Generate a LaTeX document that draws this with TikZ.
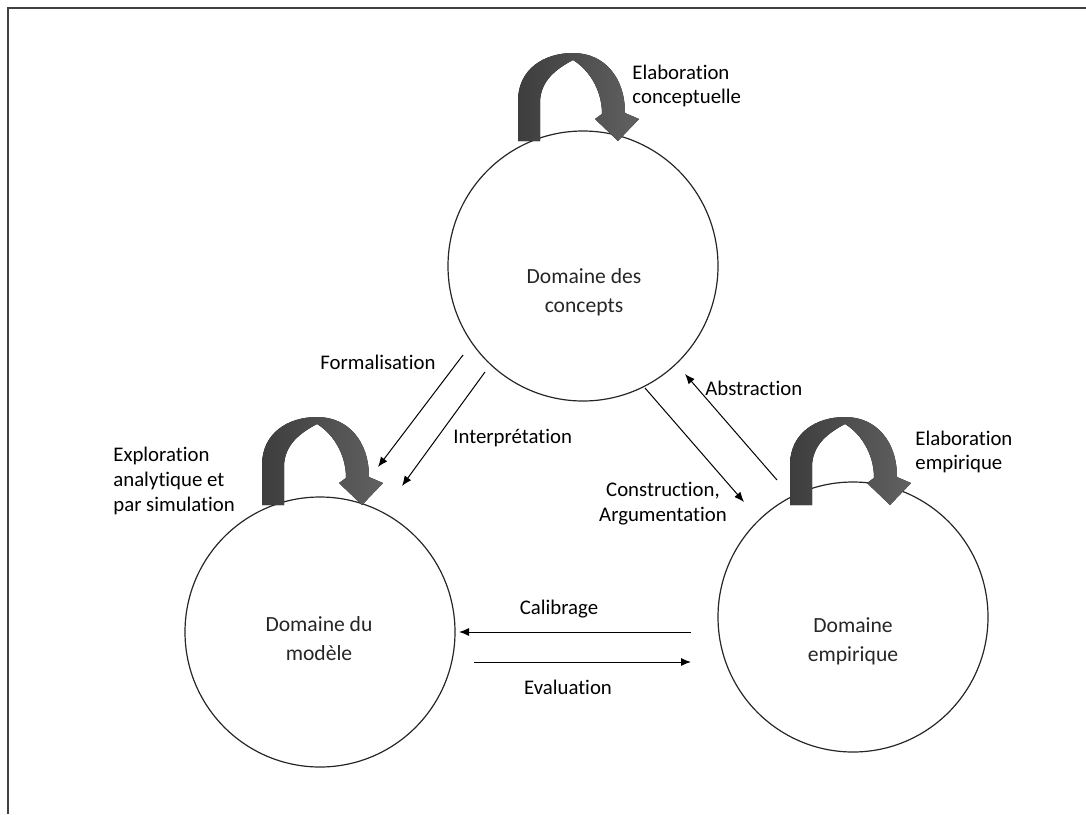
\documentclass[tikz,border=0pt]{standalone}
\usepackage{fontspec}
\setmainfont{Carlito}[Ligatures=NoCommon]
\usetikzlibrary{arrows.meta}
\begin{document}
\begin{tikzpicture}[
  x=0.5pt, y=-0.5pt,
  dom/.style={circle, draw=black!85, line width=0.6pt, minimum size=135pt, inner sep=0pt},
  dtext/.style={align=center, inner sep=0pt, text=black!85, font=\fontsize{10.8}{14.5}\selectfont},
  lbl/.style={align=center, inner sep=0pt, font=\fontsize{10.4}{12.4}\selectfont},
  flow/.style={-{Latex[length=5pt,width=4pt]}, line width=0.5pt},
  loopshape/.style={left color=black!76, right color=black!62, draw=none}
]
  \useasboundingbox (0,0) rectangle (1086,814);
  \draw[line width=1pt, black!75] (8,814) -- (8,8) -- (1086,8);

  \node[dom] (conc) at (583,266) {};
  \node[dom] (mod) at (320,632) {};
  \node[dom] (emp) at (853,617) {};

  \node[dtext] (concT) at (584,292) {Domaine des\\concepts};
  \node[dtext] (modT) at (319,639) {Domaine du\\mod\`ele};
  \node[dtext] (empT) at (853,641) {Domaine\\empirique};

  % boucles
  \foreach \x/\y in {518/141, 262/505, 790/505} {
    \begin{scope}[shift={(\x,\y)}]
      \fill[loopshape] (0,0) -- (0,-40)
        .. controls (0,-72) and (26,-88) .. (55,-88)
        .. controls (86,-88) and (107,-64) .. (107,-28)
        -- (121,-22) -- (100,0) -- (77,-22) -- (84,-27)
        .. controls (84,-52) and (70,-72) .. (55,-81)
        .. controls (38,-72) and (22,-60) .. (22,-38)
        -- (22,0) -- cycle;
    \end{scope}
  }

  \coordinate (formA) at (463,355);
  \coordinate (formB) at (378,467);
  \coordinate (interA) at (485,372);
  \coordinate (interB) at (402,486);
  \coordinate (absA) at (777,480);
  \coordinate (absB) at (685,374);
  \coordinate (consA) at (645,388);
  \coordinate (consB) at (744,502);
  \coordinate (calA) at (691,632);
  \coordinate (calB) at (459,632);
  \coordinate (evalA) at (474,662);
  \coordinate (evalB) at (691,662);

  \draw[flow] (formA) -- (formB);
  \draw[flow] (interA) -- (interB);
  \draw[flow] (absA) -- (absB);
  \draw[flow] (consA) -- (consB);
  \draw[flow] (calA) -- (calB);
  \draw[flow] (evalA) -- (evalB);

  \node[lbl, anchor=west, align=left] (elabC) at (632,86) {Elaboration\\conceptuelle};
  \node[lbl, anchor=west, align=left] (explo) at (113,481) {Exploration\\analytique et\\par simulation};
  \node[lbl, anchor=west, align=left] (elabE) at (915,452) {Elaboration\\empirique};
  \node[lbl] (formL) at (378,362) {Formalisation};
  \node[lbl, anchor=west] (interL) at (453,438) {Interpr\'etation};
  \node[lbl, anchor=west] (absL) at (705,388) {Abstraction};
  \node[lbl] (consL) at (663,504) {Construction,\\Argumentation};
  \node[lbl] (calL) at (559,609) {Calibrage};
  \node[lbl] (evalL) at (568,687) {Evaluation};
\end{tikzpicture}
\end{document}
